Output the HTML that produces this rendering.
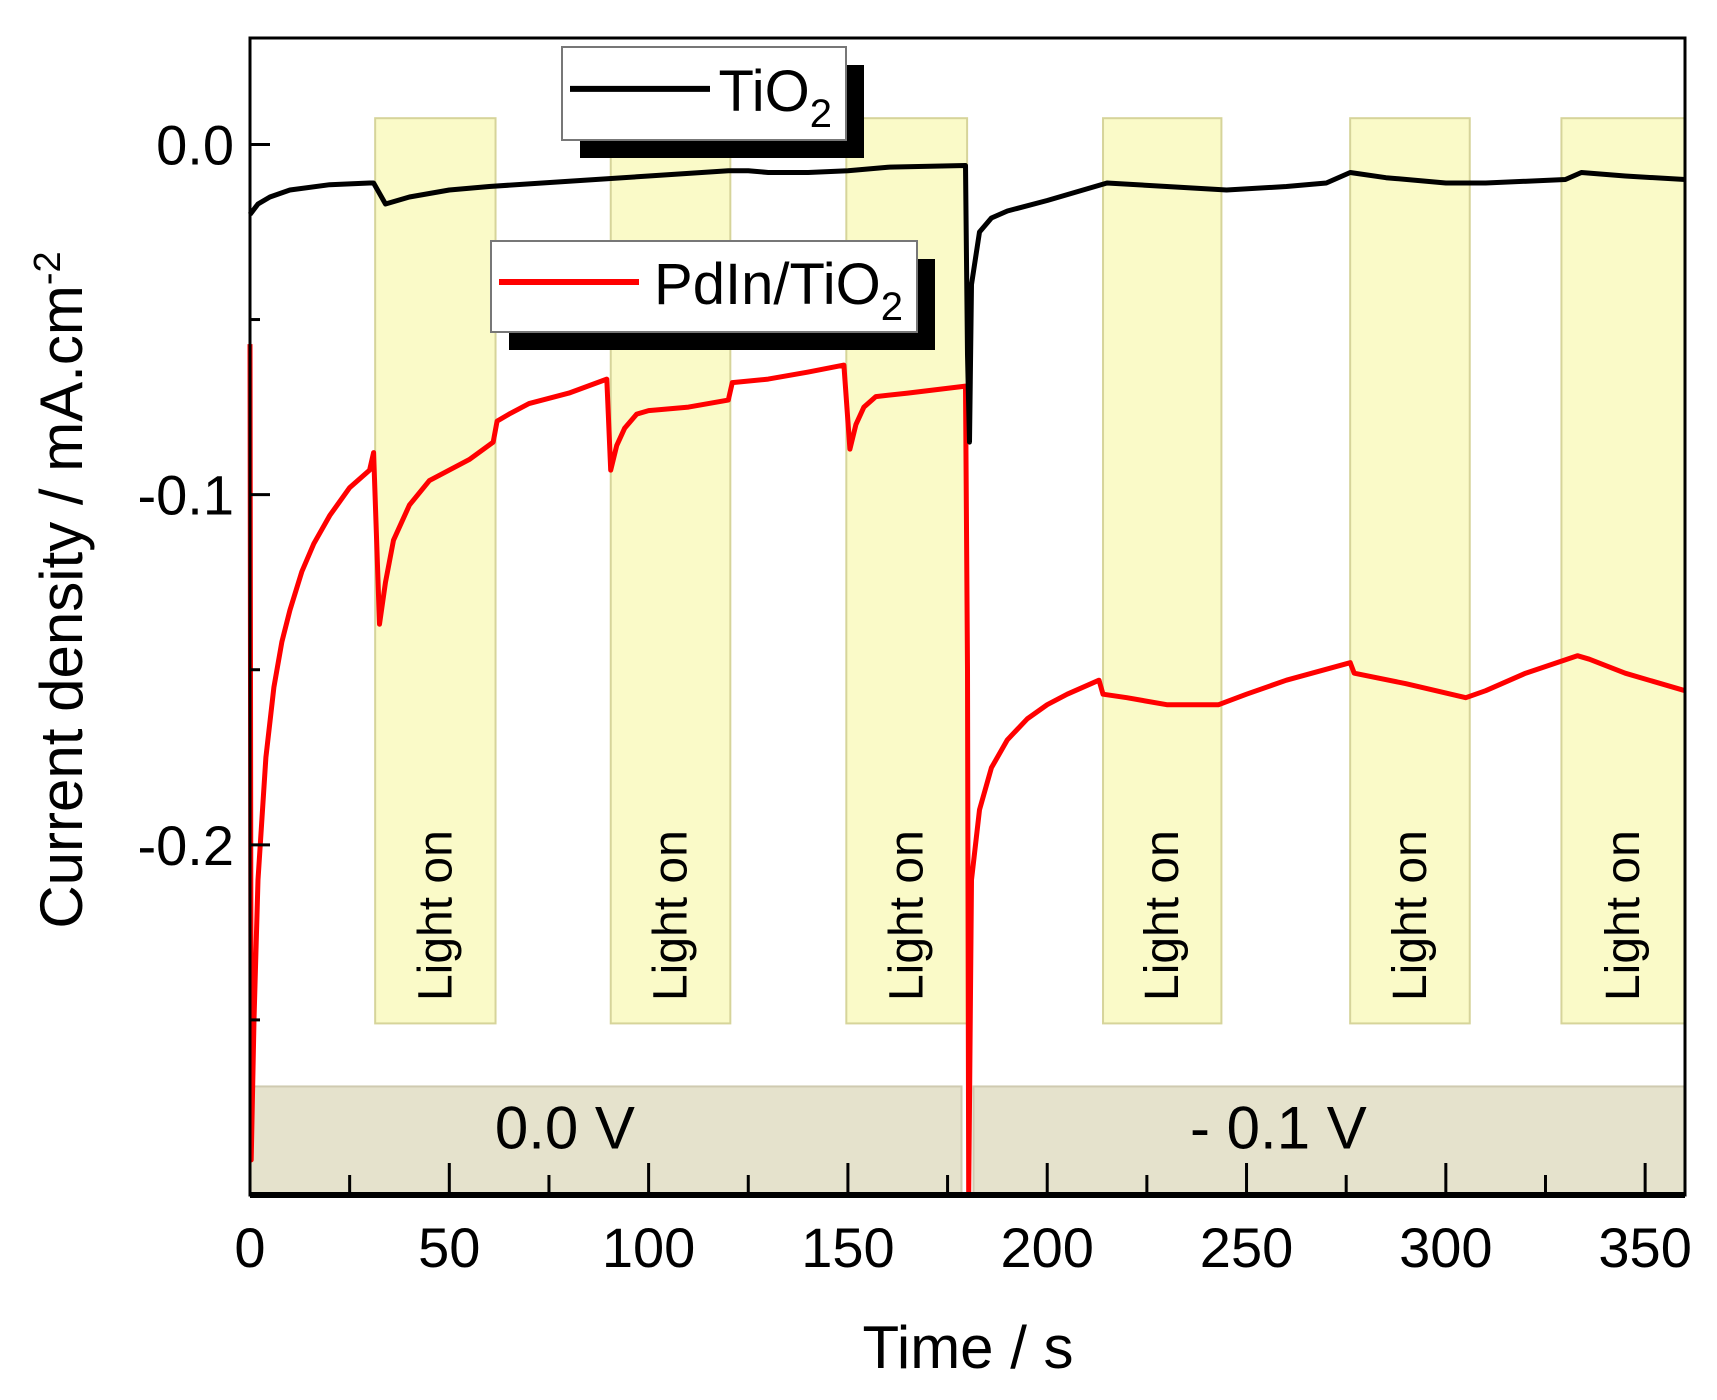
<!DOCTYPE html>
<html><head><meta charset="utf-8"><style>
html,body{margin:0;padding:0;background:#fff;}
svg{display:block;font-family:"Liberation Sans",Arial,sans-serif;}
</style></head><body>
<svg id="chart" width="1717" height="1400" viewBox="0 0 1717 1400" xmlns="http://www.w3.org/2000/svg">
<g id="bands"></g>
<g id="boxes"></g>
<g id="series"></g>
<g id="axes"></g>
<g id="legend"></g>
</svg>
<script>
const lightStart = [31.4, 90.5, 149.6, 214, 276, 329];
const lightEnd   = [61.6, 120.5, 179.9, 243.7, 306, 360];
const xTicks = [0, 50, 100, 150, 200, 250, 300, 350];
const yTicks = [0, -0.1, -0.2];
const yTickLabels = ["0.0", "-0.1", "-0.2"];
const tio2T = [0,2,5,10,20,30,31,34,40,50,60,80,100,120,125,130,140,150,160,179.5,180,180.5,181,183,186,190,200,215,230,245,260,270,276,285,300,310,330,334,345,360];
const tio2V = [-0.020,-0.017,-0.015,-0.013,-0.0115,-0.011,-0.011,-0.017,-0.015,-0.013,-0.012,-0.0105,-0.009,-0.0075,-0.0075,-0.008,-0.008,-0.0075,-0.0065,-0.006,-0.06,-0.085,-0.04,-0.025,-0.021,-0.019,-0.016,-0.011,-0.012,-0.013,-0.012,-0.011,-0.008,-0.0095,-0.011,-0.011,-0.010,-0.008,-0.009,-0.010];
const pdT = [0,0.3,1,2,4,6,8,10,13,16,20,25,30,31,32.5,34,36,40,45,50,55,61,62,65,70,80,89.5,90.5,92,94,97,100,110,120,121,130,140,149,150.5,152,154,157,165,179.5,180,180.3,181,183,186,190,195,200,205,213,214,220,230,243,250,260,276,277,290,305,310,320,333,336,345,360];
const pdV = [-0.057,-0.29,-0.25,-0.21,-0.175,-0.155,-0.142,-0.133,-0.122,-0.114,-0.106,-0.098,-0.093,-0.088,-0.137,-0.125,-0.113,-0.103,-0.096,-0.093,-0.090,-0.085,-0.079,-0.077,-0.074,-0.071,-0.067,-0.093,-0.086,-0.081,-0.077,-0.076,-0.075,-0.073,-0.068,-0.067,-0.065,-0.063,-0.087,-0.080,-0.075,-0.072,-0.071,-0.069,-0.15,-0.30,-0.21,-0.19,-0.178,-0.17,-0.164,-0.160,-0.157,-0.153,-0.157,-0.158,-0.160,-0.160,-0.157,-0.153,-0.148,-0.151,-0.154,-0.158,-0.156,-0.151,-0.146,-0.147,-0.151,-0.156];

const NS="http://www.w3.org/2000/svg";
const L=250,R=1685,T=38,B=1195,XMAX=360,YMAX=0.0304,YMIN=-0.300;
const xs=t=>L+(t/XMAX)*(R-L);
const ys=v=>T+(YMAX-v)/(YMAX-YMIN)*(B-T);
function mk(tag,attrs,parent,text){const e=document.createElementNS(NS,tag);for(const k in attrs)e.setAttribute(k,attrs[k]);if(text!==undefined)e.textContent=text;parent.appendChild(e);return e;}

const bands=document.getElementById('bands');
lightStart.forEach((s,i)=>{
  const r=mk('rect',{x:xs(s),y:ys(0.0075),width:xs(lightEnd[i])-xs(s),height:ys(-0.251)-ys(0.0075),fill:'#fafac8',stroke:'#d6d49a','stroke-width':2},bands);
  
  
  const cx=(xs(s)+xs(lightEnd[i]))/2+16, cy=ys(-0.2165)+13;
  const tx=mk('text',{x:cx,y:cy,'font-size':48,'text-anchor':'middle',transform:`rotate(-90 ${cx} ${cy})`},bands,'Light on');
  
  
});
const boxes=document.getElementById('boxes');
[[0,178.5,'0.0 V',79],[181.5,360,'- 0.1 V',258]].forEach(b=>{
  const r=mk('rect',{x:xs(b[0]),y:ys(-0.269),width:xs(b[1])-xs(b[0]),height:B-ys(-0.269),fill:'#e5e2cc',stroke:'#cfcab0','stroke-width':2},boxes);
  
  
  const t=mk('text',{x:xs(b[3]),y:ys(-0.269)+62,'font-size':60,'text-anchor':'middle'},boxes,b[2]);
  
  
});
const series=document.getElementById('series');
function line(T2,V,color,name){
  const d=T2.map((t,i)=>(i?'L':'M')+xs(t).toFixed(1)+','+ys(V[i]).toFixed(1)).join(' ');
  const p=mk('path',{d:d,fill:'none',stroke:color,'stroke-width':5,'stroke-linejoin':'round'},series);
  
  
}
line(pdT,pdV,'#ff0000','pdin-tio2-line');
line(tio2T,tio2V,'#000000','tio2-line');

const axes=document.getElementById('axes');
const frame=mk('rect',{x:L,y:T,width:R-L,height:B-T,fill:'none',stroke:'#000','stroke-width':3},axes);


mk('line',{x1:L,y1:B,x2:R,y2:B,stroke:'#000','stroke-width':6},axes);
for(let t=25;t<XMAX;t+=25){const major=t%50===0;mk('line',{x1:xs(t),y1:B,x2:xs(t),y2:B-(major?32:20),stroke:'#000','stroke-width':3},axes);}
xTicks.forEach(t=>{const e=mk('text',{x:xs(t),y:B+72,'font-size':56,'text-anchor':'middle'},axes,String(t));
  
  });
[-0.05,-0.15,-0.25].forEach(v=>mk('line',{x1:L,y1:ys(v),x2:L+10,y2:ys(v),stroke:'#000','stroke-width':3},axes));
yTicks.forEach((v,i)=>{mk('line',{x1:L,y1:ys(v),x2:L+20,y2:ys(v),stroke:'#000','stroke-width':3},axes);
  const e=mk('text',{x:L-16,y:ys(v)+20,'font-size':56,'text-anchor':'end'},axes,yTickLabels[i]);
  
  });
const xt=mk('text',{x:968,y:1368,'font-size':60,'text-anchor':'middle'},axes,'Time / s');


const yt=mk('text',{x:82,y:590,'font-size':60,'text-anchor':'middle',transform:'rotate(-90 82 590)'},axes);


yt.innerHTML='Current density / mA.cm<tspan dy="-22" font-size="38">-2</tspan>';

const lg=document.getElementById('legend');
function legend(x,y,w,h,color,label,name){
  const g=mk('g',{},lg);
  
  
  mk('rect',{x:x+18,y:y+18,width:w,height:h,fill:'#000'},g);
  mk('rect',{x:x,y:y,width:w,height:h,fill:'#fff',stroke:'#777','stroke-width':2},g);
  mk('line',{x1:x+8,y1:y+h*0.45,x2:x+148,y2:y+h*0.45,stroke:color,'stroke-width':6},g);
  const t=mk('text',{x:x+w-14,y:y+h*0.45+22,'font-size':58,'text-anchor':'end'},g);
  t.innerHTML=label+'<tspan dy="16" font-size="40">2</tspan>';
}
legend(562,47,284,93,'#000','TiO','legend-tio2');
legend(491,241,426,91,'#ff0000','PdIn/TiO','legend-pdin-tio2');
</script>
</body></html>
